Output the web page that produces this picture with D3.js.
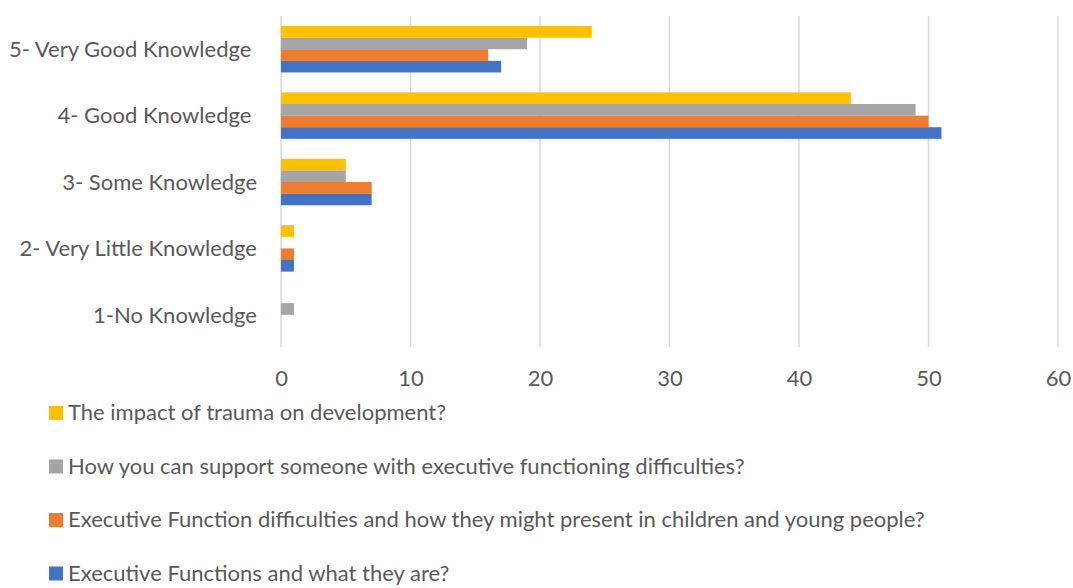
<!DOCTYPE html>
<html>
<head>
<meta charset="utf-8">
<script src="https://cdn.jsdelivr.net/npm/d3@7"></script>
<style>
  body { margin: 0; background: #fff; }
  svg { display: block; font-family: Lato, "Open Sans", sans-serif; }
</style>
</head>
<body>
<svg id="chart" width="1073" height="588"></svg>
<script>
// categories, top to bottom
const categories = [
  "5- Very Good Knowledge ",
  "4- Good Knowledge ",
  "3- Some Knowledge",
  "2- Very Little Knowledge",
  "1-No Knowledge"
];

// series (drawn top to bottom inside each group)
const seriesNames = [
  "The impact of trauma on development?",
  "How you can support someone with executive functioning difficulties?",
  "Executive Function difficulties and how they might present in children and young people?",
  "Executive Functions and what they are?"
];
const seriesColors = ["#FFC000", "#A5A5A5", "#ED7D31", "#4472C4"];

// values per series, same order as categories
const trauma   = [24, 44, 5, 1, 0];
const support  = [19, 49, 5, 0, 1];
const present  = [16, 50, 7, 1, 0];
const whatThey = [17, 51, 7, 1, 0];
const seriesValues = [trauma, support, present, whatThey];

const xTicks = [0, 10, 20, 30, 40, 50, 60];

const svg = d3.select("#chart");
const textColor = "#595959";
const fontSize = 22;

const x = d3.scaleLinear().domain([0, 60]).range([281, 1058]);
const y = d3.scaleBand().domain(categories).range([16, 348]).paddingInner(0.3).paddingOuter(0.15);
const ySub = d3.scaleBand().domain(d3.range(seriesNames.length)).range([0, y.bandwidth()]);

// gridlines
svg.append("g")
  .selectAll("line")
  .data(xTicks)
  .join("line")
  .attr("x1", d => x(d)).attr("x2", d => x(d))
  .attr("y1", 16).attr("y2", 347)
  .attr("stroke", "#d9d9d9")
  .attr("stroke-width", 1.5);

// bars
const rows = [];
categories.forEach((c, i) => {
  seriesValues.forEach((vals, s) => rows.push({ cat: c, s: s, v: vals[i] }));
});
svg.append("g")
  .selectAll("rect")
  .data(rows.filter(d => d.v > 0))
  .join("rect")
  .attr("x", x(0))
  .attr("y", d => y(d.cat) + ySub(d.s))
  .attr("width", d => x(d.v) - x(0))
  .attr("height", ySub.bandwidth())
  .attr("fill", d => seriesColors[d.s]);

// category labels
svg.append("g")
  .selectAll("text")
  .data(categories)
  .join("text")
  .attr("x", 257)
  .attr("y", d => y(d) + y.bandwidth() / 2)
  .attr("dy", "0.35em")
  .attr("text-anchor", "end")
  .style("white-space", "pre")
  .attr("font-size", fontSize)
  .attr("fill", textColor)
  .text(d => d);

// x axis tick labels
const xAxis = d3.axisBottom(x).tickValues(xTicks).tickSize(0).tickPadding(0);
const gx = svg.append("g").attr("transform", "translate(0,370)").call(xAxis);
gx.select(".domain").remove();
gx.selectAll("text")
  .attr("font-size", fontSize)
  .attr("font-family", "Lato, 'Open Sans', sans-serif")
  .attr("fill", textColor);

// legend
const legend = svg.append("g")
  .selectAll("g")
  .data(seriesNames)
  .join("g")
  .attr("transform", (d, i) => `translate(49,${413 + i * 53.5})`);
legend.append("rect")
  .attr("x", 0).attr("y", -7)
  .attr("width", 14).attr("height", 14)
  .attr("fill", (d, i) => seriesColors[i]);
legend.append("text")
  .attr("x", 19)
  .attr("dy", "0.33em")
  .attr("font-size", fontSize)
  .attr("fill", textColor)
  .text(d => d);
</script>
</body>
</html>
